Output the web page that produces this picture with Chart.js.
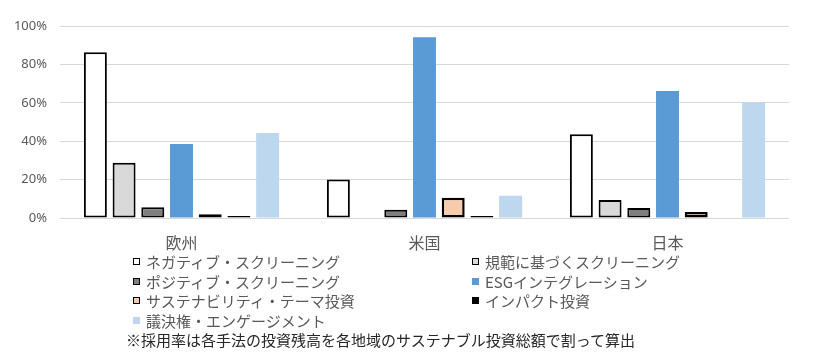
<!DOCTYPE html>
<html>
<head>
<meta charset="utf-8">
<script src="https://cdn.jsdelivr.net/npm/chart.js@4/dist/chart.umd.min.js"></script>
<style>
  html, body { margin: 0; padding: 0; background: #fff; }
  #wrap { position: relative; width: 821px; height: 360px; overflow: hidden; }
  #c { position: absolute; left: 0; top: 0; }
  #legend { position: absolute; left: 0; top: 0; width: 821px; height: 360px; pointer-events: none;
    font-family: "Noto Sans CJK JP", "Noto Sans", sans-serif; font-size: 15px; color: #595959; }
  .item { position: absolute; height: 20px; line-height: 20px; white-space: nowrap; }
  .mk { position: absolute; top: 6px; width: 7px; height: 7px; box-sizing: border-box; }
  .tx { position: absolute; left: 13px; top: 0; }
  #note { position: absolute; left: 126px; top: 330px; line-height: 20px; color: #262626;
    font-family: "Noto Sans CJK JP", "Noto Sans", sans-serif; font-size: 15px; white-space: nowrap; }
</style>
</head>
<body>
<div id="wrap">
  <canvas id="c" width="821" height="360"></canvas>
  <div id="legend"></div>
  <div id="note">※採用率は各手法の投資残高を各地域のサステナブル投資総額で割って算出</div>
</div>
<script>
// ---- data ----
const categories = ["欧州", "米国", "日本"];
const seriesNames = [
  "ネガティブ・スクリーニング",
  "規範に基づくスクリーニング",
  "ポジティブ・スクリーニング",
  "ESGインテグレーション",
  "サステナビリティ・テーマ投資",
  "インパクト投資",
  "議決権・エンゲージメント"
];
const negativeScreening   = [86.3, 20.1, 43.6];
const normsBasedScreening = [28.8, null, 9.4];
const positiveScreening   = [5.6, 4.3, 5.2];
const esgIntegration      = [38.5, 94.1, 66.1];
const sustainabilityTheme = [1.9, 10.6, 3.1];
const impactInvesting     = [1.0, 1.0, null];
const engagement          = [44.3, 11.6, 60.2];
const yTicks = [0, 20, 40, 60, 80, 100];

// ---- styles ----
const fills   = ["#FFFFFF", "#D9D9D9", "#7F7F7F", "#5B9BD5", "#F8CBAD", "#000000", "#BDD7EE"];
const borders = ["#000000", "#000000", "#000000", null, "#000000", "#000000", null];
const bwidths = [2, 2, 2, 0, 2.5, 1, 0];
const seriesValues = [negativeScreening, normsBasedScreening, positiveScreening, esgIntegration,
  sustainabilityTheme, impactInvesting, engagement];

const datasets = seriesNames.map((name, i) => ({
  label: name,
  data: seriesValues[i],
  backgroundColor: fills[i],
  borderColor: borders[i] || fills[i],
  borderWidth: bwidths[i],
  borderSkipped: false,
  categoryPercentage: 0.827,
  barPercentage: 0.8
}));

const chart = new Chart(document.getElementById('c'), {
  type: 'bar',
  data: { labels: categories, datasets },
  options: {
    responsive: false,
    animation: false,
    devicePixelRatio: 1,
    layout: { padding: { left: 0, right: 32, top: 26, bottom: 0 } },
    plugins: { legend: { display: false }, tooltip: { enabled: false } },
    scales: {
      x: {
        grid: { display: false, drawTicks: false },
        border: { display: false },
        ticks: { color: '#595959', font: { family: '"Noto Sans CJK JP", sans-serif', size: 16 }, padding: 15 },
        afterFit: (s) => { s.height = 142; }
      },
      y: {
        min: 0, max: 100,
        afterBuildTicks: (s) => { s.ticks = yTicks.map(v => ({ value: v })); },
        grid: { color: '#D9D9D9', lineWidth: 1, drawTicks: false },
        border: { display: false },
        ticks: { color: '#595959', font: { family: '"Noto Sans", sans-serif', size: 13 }, padding: 13,
          callback: (v) => v + '%' },
        afterFit: (s) => { s.width = 60; }
      }
    }
  }
});

// ---- HTML legend built from the chart's datasets ----
const legend = document.getElementById('legend');
const colX = [133, 472];
const rowY = [252, 272, 291, 311];
chart.data.datasets.forEach((ds, i) => {
  const col = i % 2, row = Math.floor(i / 2);
  const it = document.createElement('div');
  it.className = 'item';
  it.style.left = colX[col] + 'px';
  it.style.top = rowY[row] + 'px';
  const mk = document.createElement('div');
  mk.className = 'mk';
  mk.style.background = ds.backgroundColor;
  if (ds.borderWidth > 0) mk.style.border = '1.5px solid ' + ds.borderColor;
  const tx = document.createElement('span');
  tx.className = 'tx';
  tx.textContent = ds.label;
  it.appendChild(mk); it.appendChild(tx);
  legend.appendChild(it);
});
</script>
</body>
</html>
